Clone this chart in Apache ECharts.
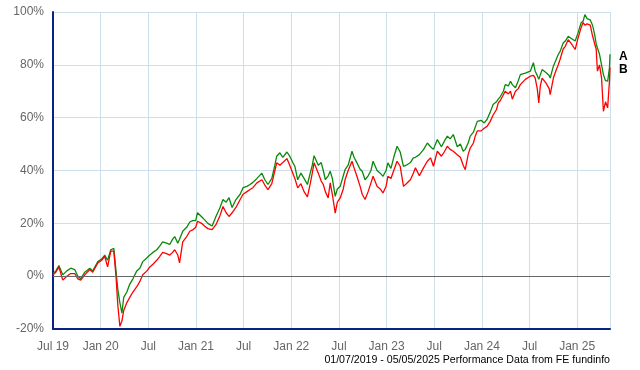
<!DOCTYPE html>
<html>
<head>
<meta charset="utf-8">
<script src="https://cdn.jsdelivr.net/npm/echarts@6/dist/echarts.min.js"></script>
<style>
html,body{margin:0;padding:0;background:#fff;}
#chart{width:640px;height:370px;}
</style>
</head>
<body>
<div id="chart"></div>
<script>
// Dates of sampled points
const dates = [
"2019-07-01","2019-07-12","2019-07-24","2019-08-08","2019-08-24","2019-09-08","2019-09-23","2019-10-05","2019-10-16","2019-11-01",
"2019-11-20","2019-12-01","2019-12-21","2020-01-05","2020-01-17","2020-01-28","2020-02-09","2020-02-20","2020-02-28","2020-03-06",
"2020-03-14","2020-03-22","2020-03-29","2020-04-10","2020-04-21","2020-05-03","2020-05-18","2020-05-30","2020-06-10","2020-06-26",
"2020-07-07","2020-07-19","2020-08-03","2020-08-15","2020-08-26","2020-09-10","2020-09-22","2020-10-03","2020-10-11","2020-10-23",
"2020-10-30","2020-11-11","2020-11-26","2020-12-08","2020-12-19","2020-12-31","2021-01-07","2021-01-23","2021-02-03","2021-02-15",
"2021-03-02","2021-03-17","2021-04-02","2021-04-13","2021-04-25","2021-05-06","2021-05-18","2021-06-02","2021-06-18","2021-06-29",
"2021-07-14","2021-07-26","2021-08-06","2021-08-22","2021-09-10","2021-09-21","2021-10-03","2021-10-18","2021-10-30","2021-11-06",
"2021-11-18","2021-11-29","2021-12-15","2021-12-26","2022-01-07","2022-01-15","2022-01-26","2022-02-07","2022-02-18","2022-03-02",
"2022-03-13","2022-03-21","2022-03-28","2022-04-13","2022-04-24","2022-05-02","2022-05-10","2022-05-21","2022-05-29","2022-06-06",
"2022-06-17","2022-06-25","2022-07-06","2022-07-18","2022-07-25","2022-08-06","2022-08-21","2022-08-29","2022-09-09","2022-09-21",
"2022-09-29","2022-10-10","2022-10-22","2022-11-02","2022-11-10","2022-11-25","2022-12-07","2022-12-18","2022-12-30","2023-01-06",
"2023-01-18","2023-01-29","2023-02-10","2023-02-21","2023-03-05","2023-03-16","2023-04-01","2023-04-12","2023-04-20","2023-05-05",
"2023-05-21","2023-06-05","2023-06-17","2023-06-28","2023-07-13","2023-07-29","2023-08-09","2023-08-21","2023-09-01","2023-09-13",
"2023-09-28","2023-10-10","2023-10-21","2023-10-29","2023-11-09","2023-11-17","2023-11-29","2023-12-06","2023-12-14","2023-12-29",
"2024-01-10","2024-01-21","2024-02-02","2024-02-13","2024-02-25","2024-03-03","2024-03-11","2024-03-23","2024-03-30","2024-04-11",
"2024-04-19","2024-04-26","2024-05-08","2024-05-19","2024-05-27","2024-06-15","2024-07-04","2024-07-16","2024-07-23","2024-07-31",
"2024-08-06","2024-08-12","2024-08-19","2024-09-04","2024-09-15","2024-09-19","2024-10-01","2024-10-08","2024-10-20","2024-10-27",
"2024-11-08","2024-11-16","2024-11-27","2024-12-09","2024-12-16","2024-12-24","2025-01-04","2025-01-16","2025-01-24","2025-01-31",
"2025-02-08","2025-02-19","2025-02-27","2025-03-07","2025-03-13","2025-03-18","2025-03-26","2025-04-03","2025-04-10","2025-04-18",
"2025-04-26","2025-05-03","2025-05-05"
];
// Series A (green), cumulative performance %
const seriesA = [
1,2,4,0.5,2,3,2.5,0,-1,1.5,
3,2,5.5,6.5,8,6,10,10.5,2,-5,
-10,-14,-8,-6,-3,-1,2,3,5.5,7,
8,9,10,11.5,13,12.5,12,14,15,12.5,
14,17,18.5,20.5,21,21,24,22.5,21.4,20,
19,22.6,26,29,28,29.7,26,29,31,33.5,
34,34.7,35.5,37,39,36.5,34.7,37,42,45.4,
46.7,45,47,45.4,43,41.6,36.5,39,37,34.7,
39,42,45.6,42,43,40,36.5,38,39.7,37,
30.2,33,34,38,40.3,42,47.3,45,42.9,40.5,
39.7,36.5,38,40,43.5,40,39,37.8,40,42.9,
40.8,45,49.2,47,41.6,42,43,44.8,45,46,
47.9,50.4,49,48,51.7,49,51,53,52,53.6,
49,50,47.3,48,50.4,53,54.5,55,58.6,59,
58,59.3,62,65,66,67,68,70,72.5,72,
73.8,72.5,71.3,74,76.3,76.9,77.6,80.8,77.6,76,
74.5,73.8,78.2,77,76,75,79.5,80,83.9,85,
88.3,89,90.8,90,89.5,89,92,95.9,96.5,99,
97.5,97,95,91.5,88,86.4,84,80,76.3,74,
73.8,79,84
];
// Series B (red), cumulative performance %
const seriesB = [
0.5,1.5,3.5,-1.5,0,1,1,-1,-1.5,0.5,
2.5,1.5,5,6,7.5,3.5,9.5,9.5,0,-11,
-19,-17,-13,-10,-8,-6,-4,-2,0.5,2,
3.5,4.5,6,7.5,9,8.5,8,9,10,8,
5,13,15,17,17.5,18.5,20.8,20,19,18,
17.6,19.5,23,26.4,24,22.6,24,26,29,31,
32,32.8,33.5,35.3,36.5,34.5,32.8,35,40,42.9,
42,43,44.5,42,39,37,33.4,35,32,30,
35,39,42.9,39,36,34.7,32,29.6,35.3,31,
23.9,28,29.6,33,36.5,40,43.5,41,37.8,34,
31,29,32,35.3,37.8,34,33,31.5,34,37.8,
37,40,43.5,41.6,34,35,36.5,39,41,38,
41,43.5,44.8,41.6,47.3,45.4,47,49.2,48,47.3,
46,45,42,40.3,46,48.5,50.4,53,55,55,
56,56.7,58.5,61,63,65.6,66.5,68.7,70,69,
70,67,70,71,72.5,74.5,75.7,76,75,71,
65.6,72,75,73,71,68.7,75,77,80,82,
86,87,89.5,88,87.7,85.8,90,94,96,95,
95.5,95,91,88,86,77.6,80,75,62.4,66,
63.7,74,79
];
const startDate = "2019-07-01";
const endDate = "2025-05-05";
const yTicks = [-20, 0, 20, 40, 60, 80, 100];
const seriesNames = ["A", "B"];
const footerText = "01/07/2019 - 05/05/2025 Performance Data from FE fundinfo";

function monthsSinceStart(s) {
  const p = s.split("-").map(Number), q = startDate.split("-").map(Number);
  const dim = new Date(p[0], p[1], 0).getDate();
  return (p[0] - q[0]) * 12 + (p[1] - q[1]) + (p[2] - q[2]) / dim;
}
const xMax = monthsSinceStart(endDate);
const dataA = dates.map((d, i) => [monthsSinceStart(d), seriesA[i]]);
const dataB = dates.map((d, i) => [monthsSinceStart(d), seriesB[i]]);

function xLabel(v) {
  if (Math.abs(v - Math.round(v)) > 1e-6) return "";
  const m = Math.round(v);
  if (m % 6 !== 0 || m > xMax) return "";
  const mon = (7 + m - 1) % 12 + 1;
  const year = 2019 + Math.floor((7 + m - 1) / 12);
  const yy = String(year % 100).padStart(2, "0");
  if (mon === 1) return "Jan " + yy;
  if (m === 0) return "Jul " + yy;
  return "Jul";
}

const chart = echarts.init(document.getElementById("chart"), null, {renderer: "canvas"});
const navy = "#0a2380";
const gridCol = "#cfdfe9";
const font = "Liberation Sans, Arial, sans-serif";
chart.setOption({
  animation: false,
  backgroundColor: "#fff",
  grid: {left: 53, top: 12, right: 30, bottom: 41, containLabel: false},
  xAxis: {
    type: "value", min: 0, max: xMax, interval: 6,
    axisLine: {show: true, onZero: false, lineStyle: {color: navy, width: 2}},
    axisTick: {show: false},
    splitLine: {show: true, lineStyle: {color: gridCol, width: 1}},
    axisLabel: {color: "#666", fontSize: 12, fontFamily: font, margin: 12, formatter: xLabel, showMaxLabel: false}
  },
  yAxis: {
    type: "value", min: yTicks[0], max: yTicks[yTicks.length - 1], interval: 20,
    axisLine: {show: true, lineStyle: {color: navy, width: 2}},
    axisTick: {show: false},
    splitLine: {show: true, lineStyle: {color: gridCol, width: 1}},
    axisLabel: {color: "#666", fontSize: 12, fontFamily: font, margin: 9, formatter: v => v + "%"}
  },
  graphic: [
    {type: "line", shape: {x1: 610.5, y1: 12, x2: 610.5, y2: 329}, style: {stroke: gridCol, lineWidth: 1}, silent: true},
    {type: "text", right: 30, top: 355, style: {text: footerText, fill: "#000", font: "10.6px 'Liberation Sans', Arial, sans-serif"}}
  ],
  series: [
    {
      name: seriesNames[0], type: "line", data: dataA, showSymbol: false, symbol: "none",
      lineStyle: {color: "#0a8a0a", width: 1.3}, itemStyle: {color: "#0a8a0a"},
      endLabel: {show: true, formatter: seriesNames[0], color: "#000", fontWeight: "bold", fontSize: 12, fontFamily: font, distance: 9, offset: [0, 2]},
      markLine: {silent: true, symbol: "none", label: {show: false}, lineStyle: {color: "#666", width: 1, type: "solid"}, data: [{yAxis: 0}]},
      z: 2
    },
    {
      name: seriesNames[1], type: "line", data: dataB, showSymbol: false, symbol: "none",
      lineStyle: {color: "#ff0000", width: 1.3}, itemStyle: {color: "#ff0000"},
      endLabel: {show: true, formatter: seriesNames[1], color: "#000", fontWeight: "bold", fontSize: 12, fontFamily: font, distance: 9, offset: [0, 2]},
      z: 3
    }
  ]
});
</script>
</body>
</html>
